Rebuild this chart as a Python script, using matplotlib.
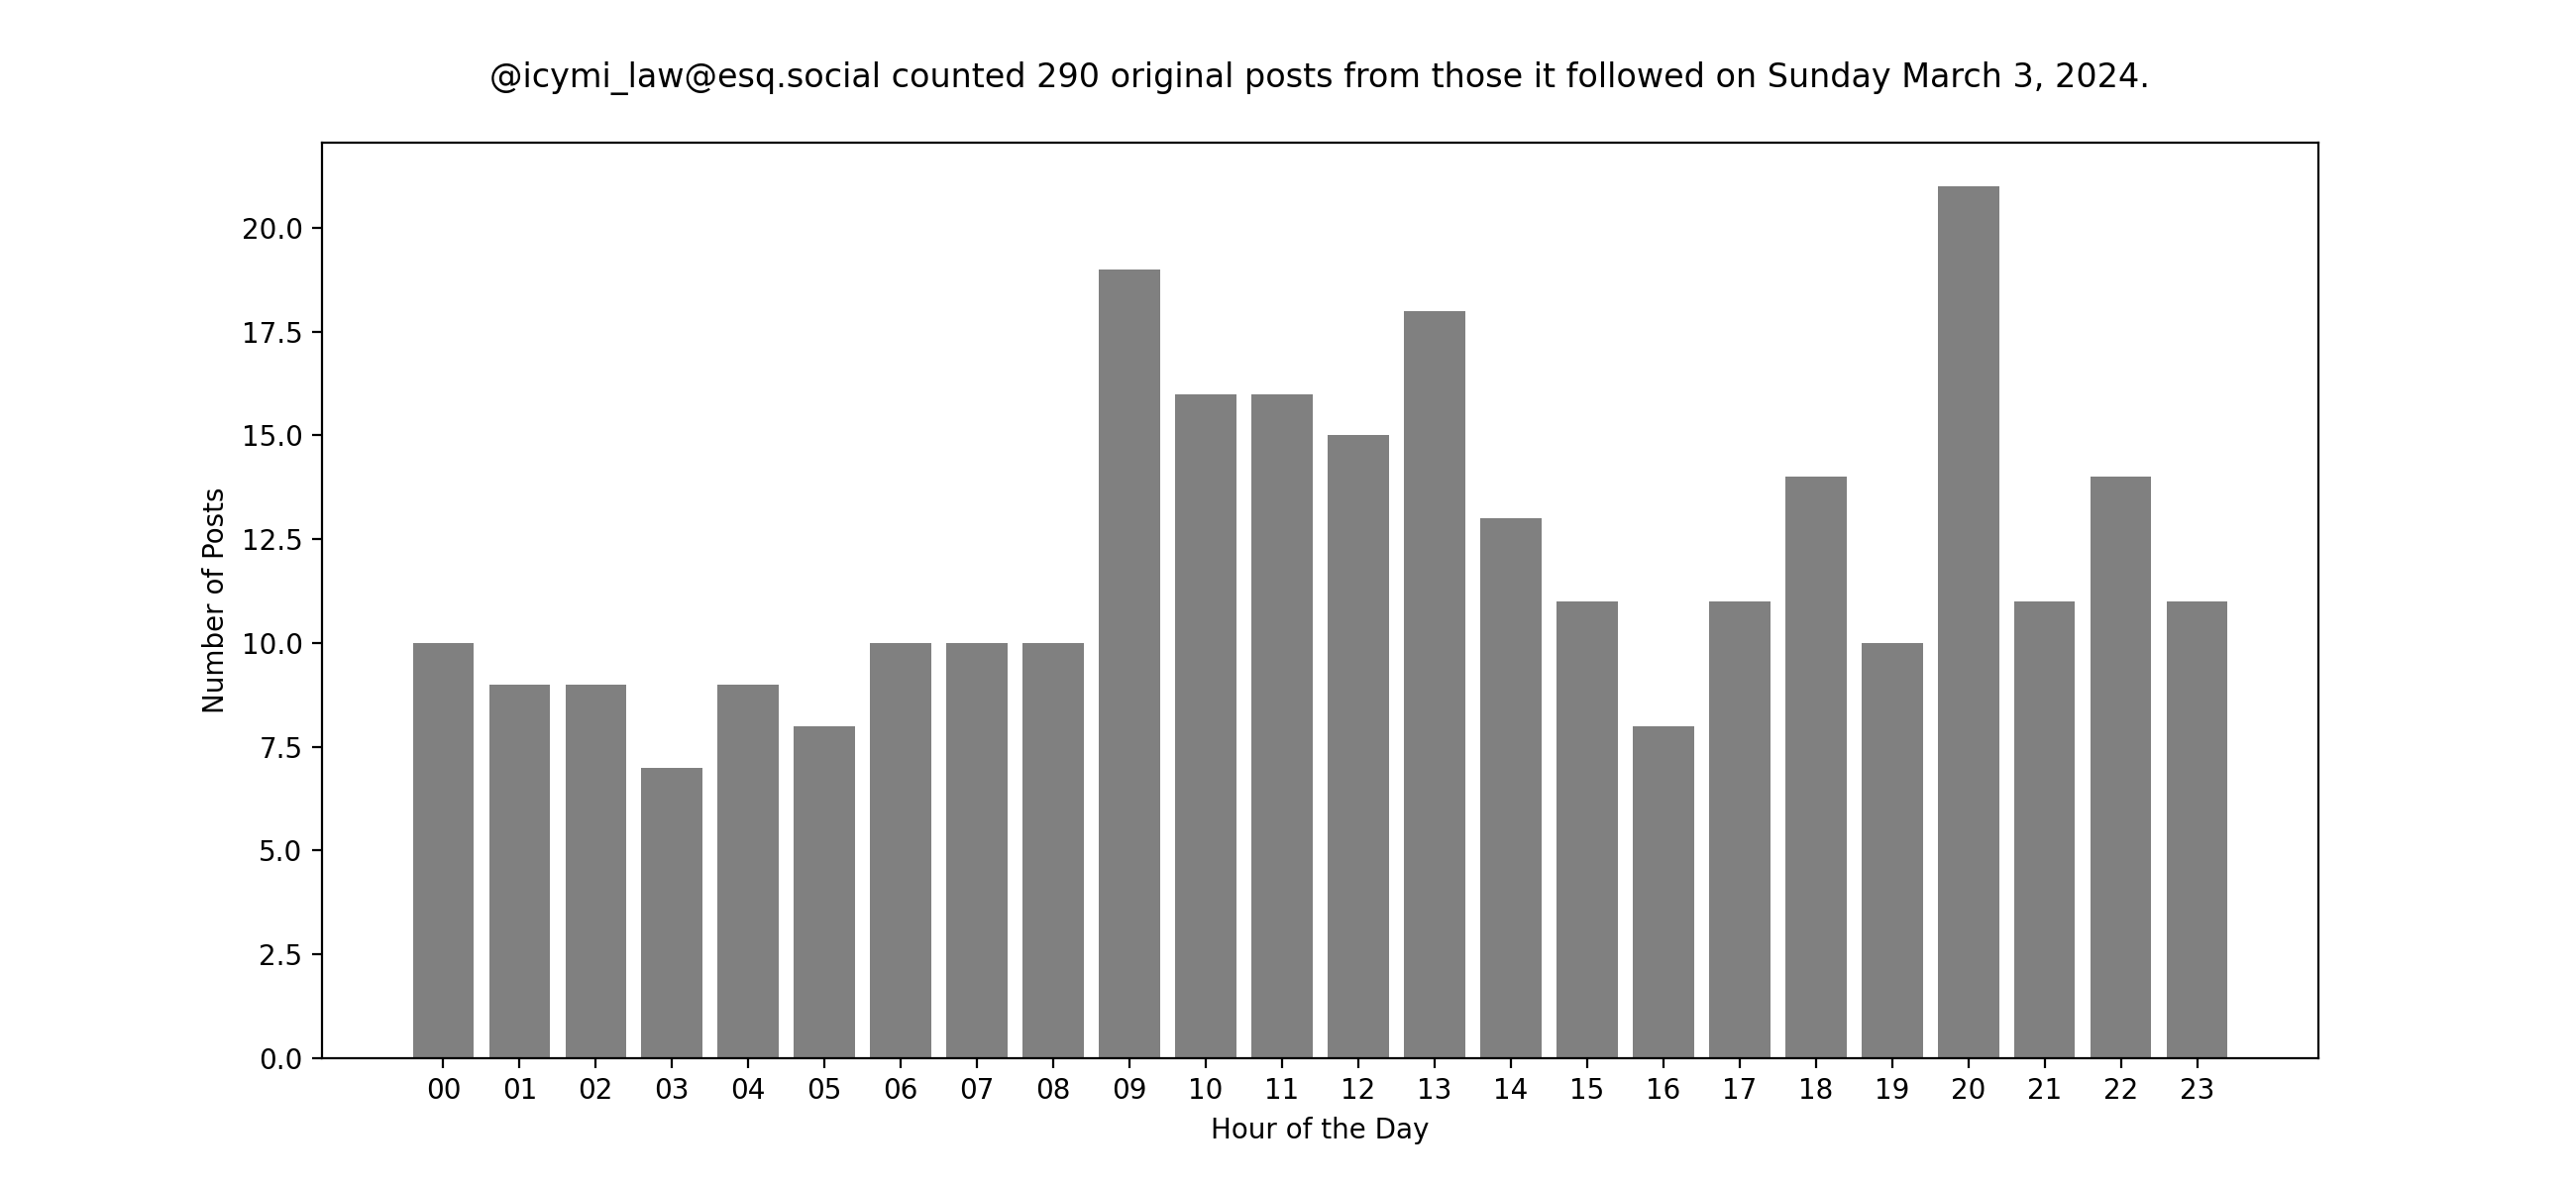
import matplotlib
matplotlib.use("Agg")
import matplotlib.pyplot as plt

# Posts per hour
hours = [f"{h:02d}" for h in range(24)]
counts = [10, 9, 9, 7, 9, 8, 10, 10, 10, 19, 16, 16,
          15, 18, 13, 11, 8, 11, 14, 10, 21, 11, 14, 11]

title = ("@icymi_law@esq.social counted 290 original posts from those "
         "it followed on Sunday March 3, 2024.")

fig, ax = plt.subplots(figsize=(13, 6), dpi=200)
ax.bar(hours, counts, color="gray")
ax.set_title(title, pad=20)
ax.set_xlabel("Hour of the Day")
ax.set_ylabel("Number of Posts")

fig.savefig("out.png", dpi=200)
